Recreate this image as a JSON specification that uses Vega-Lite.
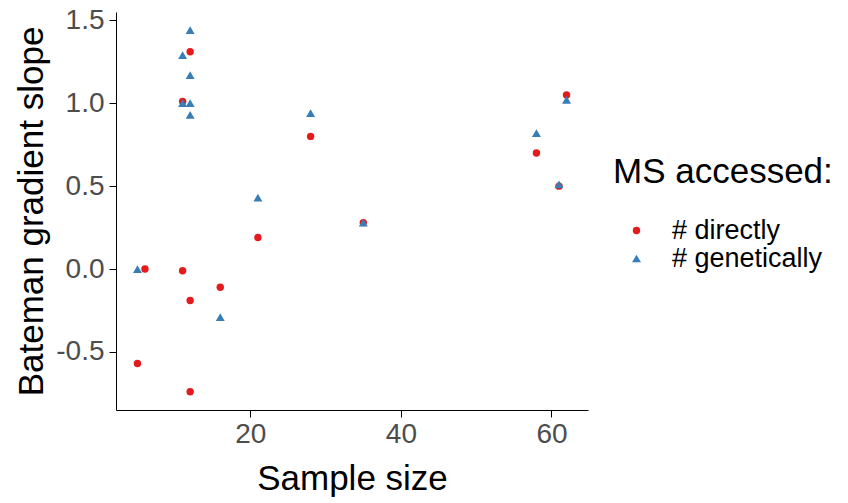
{
  "$schema": "https://vega.github.io/schema/vega-lite/v6.json",
  "autosize": {"type": "none"},
  "width": 472,
  "height": 398,
  "padding": {"left": 116, "top": 12, "right": 260, "bottom": 93},
  "background": "white",
  "config": {
    "view": {"stroke": null},
    "font": "Liberation Sans"
  },
  "data": {
    "values": [
      {"n": 5, "slope": -0.57, "ms": "# directly"},
      {"n": 6, "slope": 0.0, "ms": "# directly"},
      {"n": 11, "slope": -0.01, "ms": "# directly"},
      {"n": 12, "slope": -0.19, "ms": "# directly"},
      {"n": 12, "slope": -0.74, "ms": "# directly"},
      {"n": 16, "slope": -0.11, "ms": "# directly"},
      {"n": 21, "slope": 0.19, "ms": "# directly"},
      {"n": 28, "slope": 0.8, "ms": "# directly"},
      {"n": 35, "slope": 0.28, "ms": "# directly"},
      {"n": 58, "slope": 0.7, "ms": "# directly"},
      {"n": 61, "slope": 0.5, "ms": "# directly"},
      {"n": 62, "slope": 1.05, "ms": "# directly"},
      {"n": 12, "slope": 1.31, "ms": "# directly"},
      {"n": 11, "slope": 1.01, "ms": "# directly"},
      {"n": 5, "slope": 0.0, "ms": "# genetically"},
      {"n": 11, "slope": 1.29, "ms": "# genetically"},
      {"n": 12, "slope": 1.44, "ms": "# genetically"},
      {"n": 12, "slope": 1.17, "ms": "# genetically"},
      {"n": 11, "slope": 1.0, "ms": "# genetically"},
      {"n": 12, "slope": 1.0, "ms": "# genetically"},
      {"n": 12, "slope": 0.93, "ms": "# genetically"},
      {"n": 16, "slope": -0.29, "ms": "# genetically"},
      {"n": 21, "slope": 0.43, "ms": "# genetically"},
      {"n": 28, "slope": 0.94, "ms": "# genetically"},
      {"n": 35, "slope": 0.28, "ms": "# genetically"},
      {"n": 58, "slope": 0.82, "ms": "# genetically"},
      {"n": 61, "slope": 0.51, "ms": "# genetically"},
      {"n": 62, "slope": 1.02, "ms": "# genetically"}
    ]
  },
  "mark": {"type": "point", "filled": true, "opacity": 1},
  "encoding": {
    "x": {
      "field": "n", "type": "quantitative", "title": "Sample size",
      "scale": {"domain": [2.15, 64.85], "nice": false, "zero": false},
      "axis": {
        "values": [20, 40, 60], "grid": false, "domainColor": "black", "tickColor": "black",
        "tickSize": 7, "labelFontSize": 28, "labelColor": "#4D4D4D", "labelPadding": 3,
        "titleFontSize": 35, "titleFontWeight": "normal", "titleColor": "black", "titlePadding": 13
      }
    },
    "y": {
      "field": "slope", "type": "quantitative", "title": "Bateman gradient slope",
      "scale": {"domain": [-0.85, 1.55], "nice": false, "zero": false},
      "axis": {
        "values": [-0.5, 0, 0.5, 1.0, 1.5],
        "labelExpr": "replace(format(datum.value, '.1f'), '\u2212', '-')",
        "grid": false, "domainColor": "black", "tickColor": "black",
        "tickSize": 7, "labelFontSize": 28, "labelColor": "#4D4D4D", "labelPadding": 5,
        "titleFontSize": 35, "titleFontWeight": "normal", "titleColor": "black", "titlePadding": 6
      }
    },
    "color": {
      "field": "ms", "type": "nominal", "title": "MS accessed:",
      "scale": {"domain": ["# directly", "# genetically"], "range": ["#E41A1C", "#377EB8"]},
      "legend": {
        "orient": "none", "legendX": 497, "legendY": 143, "titleLimit": 400,
        "titleFontSize": 35, "titleFontWeight": "normal", "titleColor": "black", "titlePadding": 27,
        "labelFontSize": 27, "labelColor": "black", "labelOffset": 22, "symbolSize": 40, "rowPadding": 0,
        "symbolOffset": 10
      }
    },
    "shape": {
      "field": "ms", "type": "nominal", "title": "MS accessed:",
      "scale": {"domain": ["# directly", "# genetically"], "range": ["circle", "triangle-up"]}
    },
    "size": {
      "field": "ms", "type": "nominal", "legend": null,
      "scale": {"domain": ["# directly", "# genetically"], "range": [55, 80]}
    }
  }
}
